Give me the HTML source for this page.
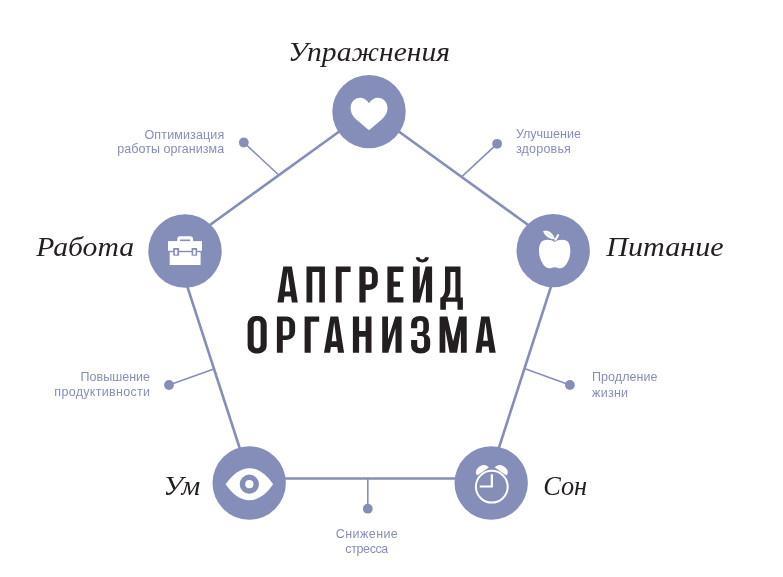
<!DOCTYPE html>
<html><head><meta charset="utf-8">
<style>
html,body{margin:0;padding:0;background:#fff;width:783px;height:577px;overflow:hidden}
svg{display:block;will-change:transform}
.lab{font-family:"Liberation Serif",serif;font-style:italic;font-size:27px;fill:#231f20}
.sub{font-family:"Liberation Sans",sans-serif;font-size:12.5px;fill:#858eb9}
.ttl{font-family:"Liberation Sans",sans-serif;font-weight:bold;font-size:51.4px;fill:#231f20}
</style></head><body>
<svg width="783" height="577" viewBox="0 0 783 577">
<g stroke="#858eb9" fill="none" stroke-linecap="butt">
  <!-- main pentagon edges -->
  <line x1="369" y1="110" x2="185" y2="243" stroke-width="2.6"/>
  <line x1="369" y1="110" x2="553" y2="243" stroke-width="2.6"/>
  <line x1="175.8" y1="251" x2="251" y2="483" stroke-width="2.6"/>
  <line x1="562.5" y1="251" x2="487.5" y2="483" stroke-width="2.6"/>
  <line x1="249" y1="478.5" x2="491" y2="478.5" stroke-width="2.6"/>
  <!-- spokes -->
  <line x1="243.8" y1="142.5" x2="278.2" y2="174.5" stroke-width="1.6"/>
  <line x1="497.1" y1="143.8" x2="462.1" y2="176.3" stroke-width="1.6"/>
  <line x1="169" y1="385" x2="213.2" y2="369.2" stroke-width="1.6"/>
  <line x1="569.9" y1="385" x2="525.1" y2="368.7" stroke-width="1.6"/>
  <line x1="367.8" y1="478.5" x2="367.8" y2="508.7" stroke-width="1.6"/>
</g>
<g fill="#858eb9">
  <circle cx="243.8" cy="142.5" r="4.9"/>
  <circle cx="497.1" cy="143.8" r="4.9"/>
  <circle cx="169" cy="385" r="4.9"/>
  <circle cx="569.9" cy="385" r="4.9"/>
  <circle cx="367.8" cy="508.7" r="4.9"/>
  <circle cx="369" cy="111.6" r="36.7"/>
  <circle cx="185" cy="251" r="36.7"/>
  <circle cx="553.2" cy="250.6" r="36.7"/>
  <circle cx="249.2" cy="483" r="36.7"/>
  <circle cx="491.2" cy="483" r="36.7"/>
</g>
<!-- heart -->
<path fill="#fff" d="M369 103.2 C366.5 99.7 363.6 97.8 360.3 97.8 C354.6 97.8 350.6 102.4 350.6 108.3 C350.6 113.3 353.4 117 357.2 120.3 L369 130.2 L380.8 120.3 C384.6 117 387.5 113.3 387.5 108.3 C387.5 102.4 383.4 97.8 377.7 97.8 C374.4 97.8 371.5 99.7 369 103.2 Z"/>
<!-- briefcase -->
<g fill="#fff">
  <rect x="168" y="241.1" width="34" height="9.7"/>
  <rect x="169.7" y="252.2" width="30.9" height="12.8"/>
  <path d="M177.3 241.5 V239 Q177.3 236.2 180.1 236.2 H190.2 Q193 236.2 193 239 V241.5 H190.2 V239.4 H180.1 V241.5 Z"/>
</g>
<g fill="#858eb9">
  <rect x="173.2" y="248" width="5.9" height="7.7"/>
  <rect x="191.6" y="248" width="5.5" height="7.7"/>
</g>
<g fill="#fff">
  <rect x="174.9" y="249.8" width="2.4" height="4.8"/>
  <rect x="193.2" y="249.8" width="2.4" height="4.8"/>
</g>
<!-- apple -->
<path fill="#fff" d="M554.7 242 C551.5 239.4 546.5 239 543.3 240.6 C539.8 242.5 539 246.8 539 251 C539 257 541.5 263 545 266.5 C547 268.5 550 268.6 552 267.7 C553.5 267 555.9 267 557.4 267.7 C559.4 268.6 562.4 268.5 564.4 266.5 C568 263 570.3 257 570.3 251 C570.3 246.8 569.6 242.5 566.1 240.6 C562.9 239 557.9 239.4 554.7 242 Z"/>
<path fill="#fff" d="M543 231.2 C547.5 229.8 552.5 231.8 554.9 239.2 C550 239.4 545.2 236.5 543 231.2 Z"/>
<path d="M545.5 232.5 Q550 234.5 553.5 237.8" stroke="#858eb9" stroke-width="0.5" fill="none" opacity="0.6"/>
<path fill="#fff" d="M554 240.2 L557.6 234 L559.4 235 L556 240.8 Z"/>
<!-- eye -->
<path fill="#fff" d="M225.6 484.3 C232 475 240 468.2 249.35 468.2 C258.7 468.2 266.7 475 273.1 484.3 C266.7 493.6 258.7 500.3 249.35 500.3 C240 500.3 232 493.6 225.6 484.3 Z"/>
<circle cx="249.35" cy="484.2" r="9.6" fill="#858eb9"/>
<circle cx="249.35" cy="484.2" r="4.1" fill="#fff"/>
<!-- clock -->
<circle cx="491.8" cy="486.7" r="15.9" fill="none" stroke="#fff" stroke-width="2"/>
<path d="M491.85 474.3 V486.5 H479.7" fill="none" stroke="#fff" stroke-width="2.2"/>
<g fill="#fff">
  <path transform="translate(482.8 471.4) rotate(-34)" d="M-7.1 0.2 C-7.3 -3.8 -4 -5.9 0 -5.9 C4 -5.9 7.3 -3.8 7.1 0.2 Z"/>
  <path transform="translate(500.8 471.4) rotate(34)" d="M-7.1 0.2 C-7.3 -3.8 -4 -5.9 0 -5.9 C4 -5.9 7.3 -3.8 7.1 0.2 Z"/>
</g>
<!-- labels -->
<text class="lab" x="288" y="61.3" textLength="162" lengthAdjust="spacingAndGlyphs">Упражнения</text>
<text class="lab" x="36.3" y="256.4" textLength="97.7" lengthAdjust="spacingAndGlyphs">Работа</text>
<text class="lab" x="606.3" y="256.2" textLength="117.4" lengthAdjust="spacingAndGlyphs">Питание</text>
<text class="lab" x="163.2" y="494.5" textLength="37.1" lengthAdjust="spacingAndGlyphs">Ум</text>
<text class="lab" x="543.2" y="494.9" textLength="44" lengthAdjust="spacingAndGlyphs">Сон</text>
<!-- sub labels -->
<text class="sub" x="224.2" y="138.7" text-anchor="end" textLength="79.7" lengthAdjust="spacing">Оптимизация</text>
<text class="sub" x="224.2" y="153" text-anchor="end" textLength="107" lengthAdjust="spacing">работы организма</text>
<text class="sub" x="515.9" y="138.4" textLength="65" lengthAdjust="spacing">Улучшение</text>
<text class="sub" x="515.9" y="153" textLength="55" lengthAdjust="spacing">здоровья</text>
<text class="sub" x="150" y="380.7" text-anchor="end" textLength="69.4" lengthAdjust="spacing">Повышение</text>
<text class="sub" x="150" y="396.1" text-anchor="end" textLength="95.7" lengthAdjust="spacing">продуктивности</text>
<text class="sub" x="592.1" y="381.1" textLength="65.3" lengthAdjust="spacing">Продление</text>
<text class="sub" x="592.1" y="396.5" textLength="36" lengthAdjust="spacing">жизни</text>
<text class="sub" x="366.8" y="538.2" text-anchor="middle" textLength="62" lengthAdjust="spacing">Снижение</text>
<text class="sub" x="366.8" y="552.7" text-anchor="middle" textLength="43" lengthAdjust="spacing">стресса</text>
<!-- title -->
<g fill="#231f20" fill-rule="evenodd">
<path d="M283.3,266.5 H291.9 L297.8,302.6 H291.9 L291.0,296.4 H284.45 L283.7,302.6 H277.4 Z M287.4,272.1 L290.3,291.6 H284.9 Z"/>
<path d="M306.5,266.5 H324.9 V302.6 H319.3 V272.1 H312.3 V302.6 H306.5 Z"/>
<path d="M335.8,266.5 H350.6 V272.1 H341.7 V302.6 H335.8 Z"/>
<path d="M359.4,302.6 V266.5 H369.3 A8.5,8.5 0 0 1 377.8,275 V281.6 A8.5,8.5 0 0 1 369.3,290.1 H365.6 V302.6 Z M365.6,272.1 H369.4 A2.5,2.5 0 0 1 371.9,274.6 V282 A2.5,2.5 0 0 1 369.4,284.5 H365.6 Z"/>
<path d="M387.4,266.5 H403.4 V272.1 H393.6 V281.5 H400 V286.8 H393.6 V297.2 H403.4 V302.6 H387.4 Z"/>
<path d="M412.9,266.5 H419.7 V290 L425.6,266.5 H432.1 V302.6 H425.9 V279.3 L419.8,302.6 H412.9 Z"/>
<path d="M415.7,257.3 H419.5 Q420,259.6 422.3,259.6 Q424.6,259.6 425.1,257.3 H428.9 Q428.5,262.4 422.3,262.4 Q416.1,262.4 415.7,257.3 Z"/>
<path d="M445,266.5 H460.5 V297.6 H462.9 V309.8 H457.5 V301.7 H445.9 V309.8 H440.3 V297.6 H441.4 Q445,294.5 445,289 Z M450.4,271.9 H455.4 V297.6 H447.3 Q450.4,294.5 450.4,289 Z"/>
<path d="M255.6,316.1 H258.7 A8,8 0 0 1 266.7,324.1 V345.4 A8,8 0 0 1 258.7,353.4 H255.6 A8,8 0 0 1 247.6,345.4 V324.1 A8,8 0 0 1 255.6,316.1 Z M257.15,320.8 A3.45,3.45 0 0 1 260.6,324.25 V344.75 A3.45,3.45 0 0 1 257.15,348.2 A3.45,3.45 0 0 1 253.7,344.75 V324.25 A3.45,3.45 0 0 1 257.15,320.8 Z"/>
<path d="M276.9,352.8 V316.5 H286.6 A8.5,8.5 0 0 1 295.1,325 V331.4 A8.5,8.5 0 0 1 286.6,339.9 H282.8 V352.8 Z M282.8,321.3 H286.8 A2.5,2.5 0 0 1 289.3,323.8 V333.1 A2.5,2.5 0 0 1 286.8,335.6 H282.8 Z"/>
<path d="M304.6,316.5 H319.2 V321.7 H310.7 V352.8 H304.6 Z"/>
<path d="M330.4,316.5 H338.3 L344.1,352.8 H338 L337.3,347 H330.9 L330.1,352.8 H324 Z M334.2,322.3 L336.6,341.2 H331.7 Z"/>
<path d="M352.9,316.5 H359.1 V330.9 H365.6 V316.5 H371.5 V352.8 H365.6 V336.8 H359.1 V352.8 H352.9 Z"/>
<path d="M382.2,316.5 H388 V339.5 L395.3,316.5 H401.6 V352.8 H395.5 V328.2 L388.3,352.8 H382.2 Z"/>
<path d="M411.1,328.2 V323.5 Q411.1,315.9 420.4,315.9 Q428.9,315.9 428.9,323.8 V328.5 Q428.9,332.5 425.5,334.2 Q430.2,336 430.2,341 V345.5 Q430.2,353.4 420.6,353.4 Q411.1,353.4 411.1,345.5 V339.9 H417.2 V345.3 Q417.2,348.2 420.65,348.2 Q424.1,348.2 424.1,345.3 V339 Q424.1,336 421,336 H417.2 V332.1 H420.5 Q423.3,332.1 423.3,329.3 V323.6 Q423.3,320.8 420.25,320.8 Q417.2,320.8 417.2,323.6 V328.2 Z"/>
<path d="M439.6,316.5 H447.4 L453.1,341.2 L459.1,316.5 H466.7 V352.8 H460.9 V329.5 L457,352.8 H449.6 L445.3,329.5 V352.8 H439.6 Z"/>
<path d="M481.2,316.5 H489.4 L495.7,352.8 H489.4 L488.6,346.4 H482.3 L481.5,352.8 H475.6 Z M485.5,322.1 L487.9,340.8 H483.1 Z"/>
</g>
</svg>
</body></html>
